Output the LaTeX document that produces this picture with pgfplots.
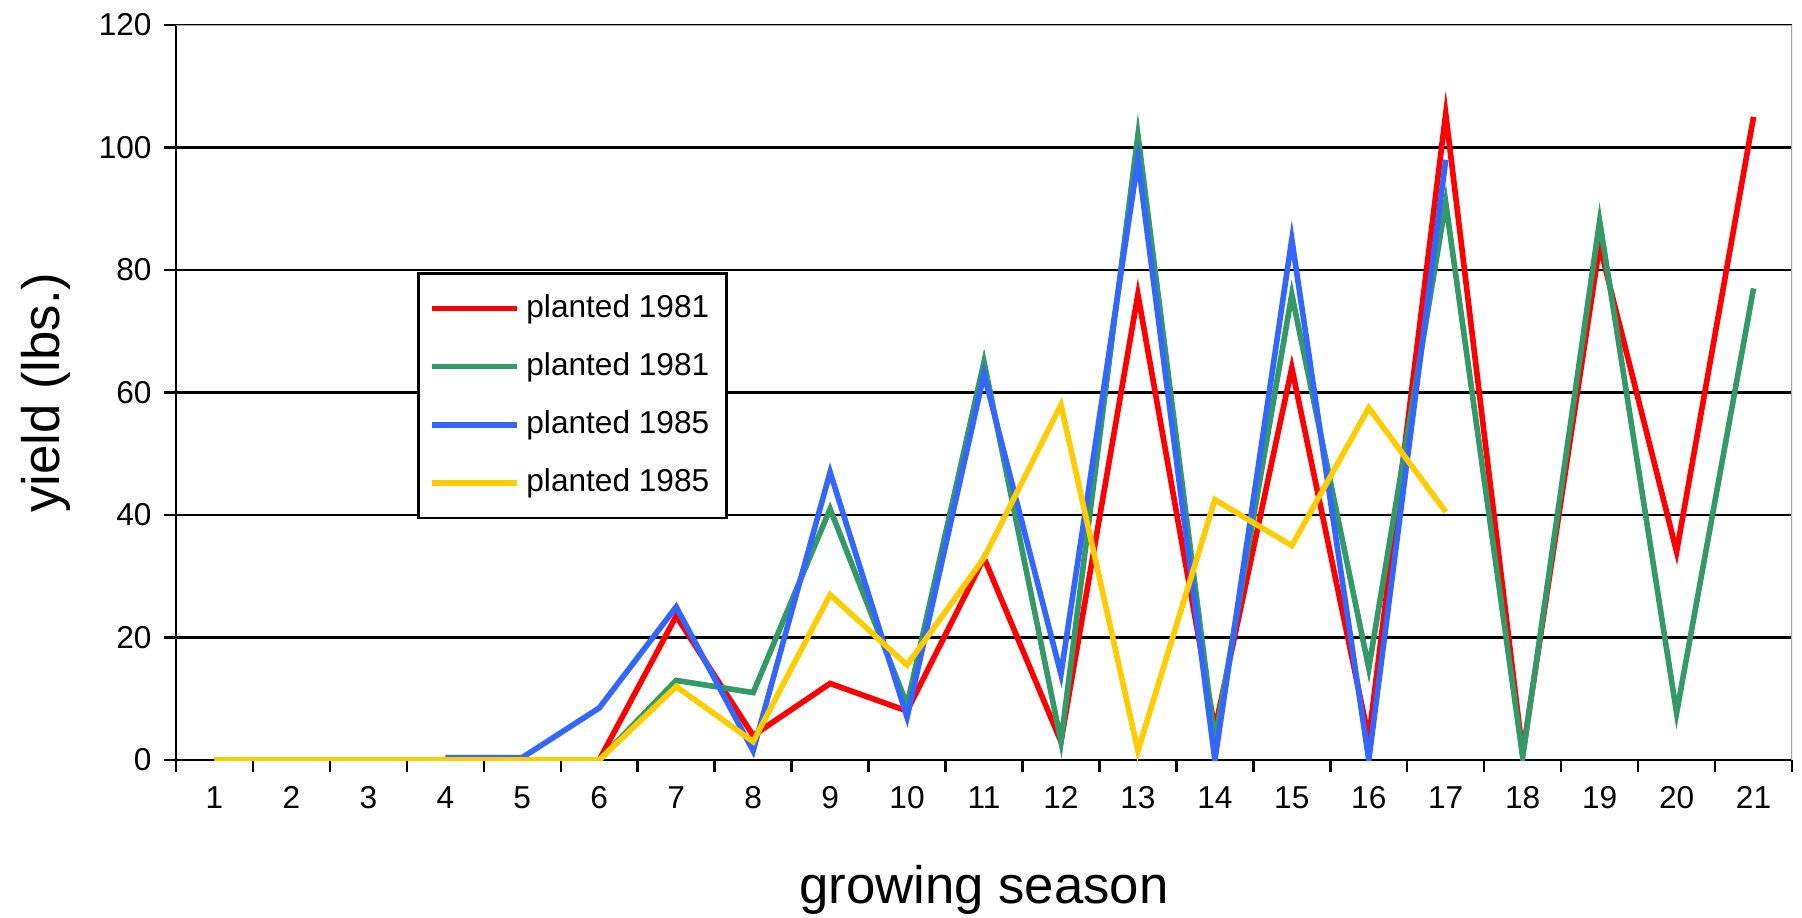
\documentclass[border=0pt]{standalone}
\usepackage{fontspec}
\setmainfont{Liberation Sans}
\usepackage{pgfplots}
\pgfplotsset{compat=1.18}
\definecolor{sRed}{HTML}{FF0000}
\definecolor{sGreen}{HTML}{339966}
\definecolor{sBlue}{HTML}{3366FF}
\definecolor{sYellow}{HTML}{FFCC00}
\begin{document}
\begin{tikzpicture}
\path[use as bounding box] (-1.76cm,-1.57cm) rectangle (16.26cm,7.60cm);
\begin{axis}[
    at={(0,0)}, anchor=south west,
    scale only axis,
    width=16.16cm, height=7.35cm,
    xmin=0.5, xmax=21.5,
    ymin=0, ymax=120,
    axis x line*=bottom, axis y line*=left,
    axis line style={black, line width=0.7pt},
    xtick={1,...,21},
    minor xtick={0.5,1.5,...,21.5},
    ytick={0,20,...,120},
    tick align=outside,
    major x tick style={draw=none},
    tick style={black, line width=0.7pt},
    major tick length=0.12cm,
    minor tick length=0.12cm,
    ymajorgrids,
    grid style={black, line width=0.65pt},
    /pgf/number format/assume math mode=true,
    ticklabel style={font=\fontsize{9}{10}\selectfont},
    xticklabel style={yshift=-0.02cm},
    xlabel={growing season},
    ylabel={yield (lbs.)},
    label style={font=\fontsize{15}{18}\selectfont},
    xlabel style={at={(axis description cs:0.5,-0.177)}, anchor=center},
    ylabel style={at={(axis description cs:-0.0804,0.5)}, anchor=center},
    legend cell align=left,
    legend style={at={(axis description cs:0.149,0.664)}, anchor=north west,
        draw=black, line width=0.8pt, font=\fontsize{9}{11}\selectfont,
        inner xsep=3pt, inner ysep=4pt, row sep=4.5pt},
    legend image code/.code={\draw[#1] (0cm,0cm) -- (0.85cm,0cm);},
    every axis plot/.append style={line width=1.6pt, mark=none},
]
\draw[gray!70, line width=0.7pt] (rel axis cs:0,1) -- (rel axis cs:1,1) -- (rel axis cs:1,0);

\addplot[sRed] coordinates {
    (1,0) (2,0) (3,0) (4,0) (5,0) (6,0) (7,23.5) (8,4) (9,12.5) (10,8)
    (11,33) (12,3) (13,76) (14,5) (15,64) (16,3.5) (17,105.5) (18,1)
    (19,84) (20,34) (21,105)};
\addplot[sGreen] coordinates {
    (1,0) (2,0) (3,0) (4,0) (5,0) (6,0) (7,13) (8,11) (9,41) (10,9)
    (11,65) (12,3) (13,102) (14,3) (15,76) (16,15) (17,91) (18,0.5)
    (19,88) (20,7.7) (21,77)};
\addplot[sBlue] coordinates {
    (4,0.4) (5,0.4) (6,8.5) (7,25) (8,1.5) (9,47) (10,7) (11,63)
    (12,14) (13,98) (14,0) (15,85) (16,0) (17,98)};
\addplot[sYellow] coordinates {
    (1,0) (2,0) (3,0) (4,0) (5,0) (6,0) (7,12) (8,3) (9,27) (10,15.5)
    (11,33) (12,58) (13,1.5) (14,42.5) (15,35) (16,57.5) (17,40.5)};
\legend{planted 1981, planted 1981, planted 1985, planted 1985}
\end{axis}
\end{tikzpicture}
\end{document}
